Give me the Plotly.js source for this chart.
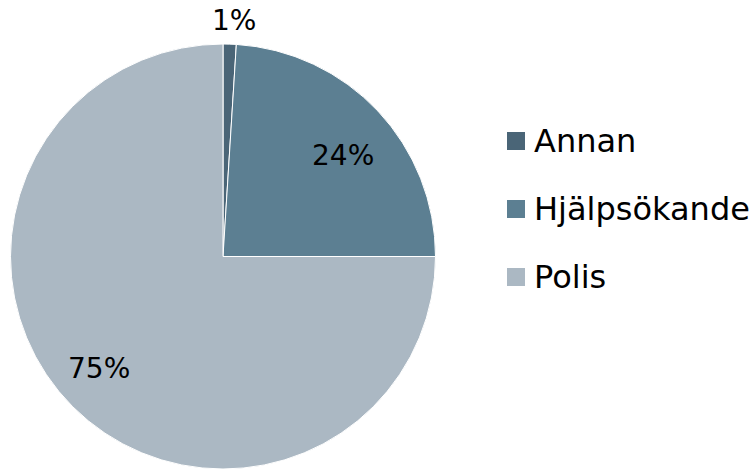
<!DOCTYPE html>
<html>
<head>
<meta charset="utf-8">
<script src="https://cdn.plot.ly/plotly-3.0.1.min.js"></script>
<style>html,body{margin:0;padding:0;background:#fff;}#chart{width:755px;height:469px;}</style>
</head>
<body>
<div id="chart"></div>
<script>
const categories = ['Annan', 'Hjälpsökande', 'Polis'];
const values = [1, 24, 75];
const colors = ['#4a6577', '#5c7f92', '#abb8c3'];

const FONT = 'DejaVu Sans, Verdana, sans-serif';
const W = 755, H = 469;
// pie geometry (pixels)
const CX = 223, R = 212.5, TOP = 44;
const CY = TOP + R;
// label radial distance as fraction of radius, per slice, plus pixel nudges
const labelRadius = [1.11, 0.74, 0.78];
const labelNudge = [[4, 0], [5, 7], [-7, -5]];

const trace = {
  type: 'pie',
  labels: categories,
  values: values,
  sort: false,
  direction: 'clockwise',
  rotation: 0,
  marker: { colors: colors, line: { color: '#ffffff', width: 1 } },
  textinfo: 'none',
  domain: { x: [(CX - R) / W, (CX + R) / W], y: [1 - (TOP + 2 * R) / H, 1 - TOP / H] },
  showlegend: false,
  hoverinfo: 'label+percent'
};

const shapes = [];
const annotations = [];

// percentage labels along each slice's bisector
const total = values.reduce((a, b) => a + b, 0);
let cum = 0;
values.forEach((v, i) => {
  const mid = (cum + v / 2) / total;
  cum += v;
  const th = mid * 2 * Math.PI;
  const px = CX + labelRadius[i] * R * Math.sin(th) + labelNudge[i][0];
  const py = CY - labelRadius[i] * R * Math.cos(th) + labelNudge[i][1];
  annotations.push({
    xref: 'paper', yref: 'paper',
    x: px / W, y: 1 - py / H,
    xanchor: 'center', yanchor: 'middle',
    text: Math.round(v / total * 100) + '%',
    showarrow: false,
    font: { family: FONT, size: 28, color: '#000000' }
  });
});

// custom legend
const legendX = 507, legendY0 = 141, legendStep = 68, sw = 18;
categories.forEach((c, i) => {
  const cy = legendY0 + i * legendStep;
  shapes.push({
    type: 'rect', xref: 'paper', yref: 'paper',
    x0: legendX / W, x1: (legendX + sw) / W,
    y0: 1 - (cy + sw / 2) / H, y1: 1 - (cy - sw / 2) / H,
    fillcolor: colors[i], line: { width: 0 }
  });
  annotations.push({
    xref: 'paper', yref: 'paper',
    x: (legendX + sw + 7) / W, y: 1 - cy / H,
    xanchor: 'left', yanchor: 'middle',
    text: c, showarrow: false,
    font: { family: FONT, size: 32, color: '#000000' }
  });
});

const layout = {
  width: W, height: H,
  margin: { l: 0, r: 0, t: 0, b: 0 },
  paper_bgcolor: '#ffffff',
  showlegend: false,
  shapes: shapes,
  annotations: annotations,
  font: { family: FONT }
};

Plotly.newPlot('chart', [trace], layout, { displayModeBar: false, staticPlot: true });
</script>
</body>
</html>
